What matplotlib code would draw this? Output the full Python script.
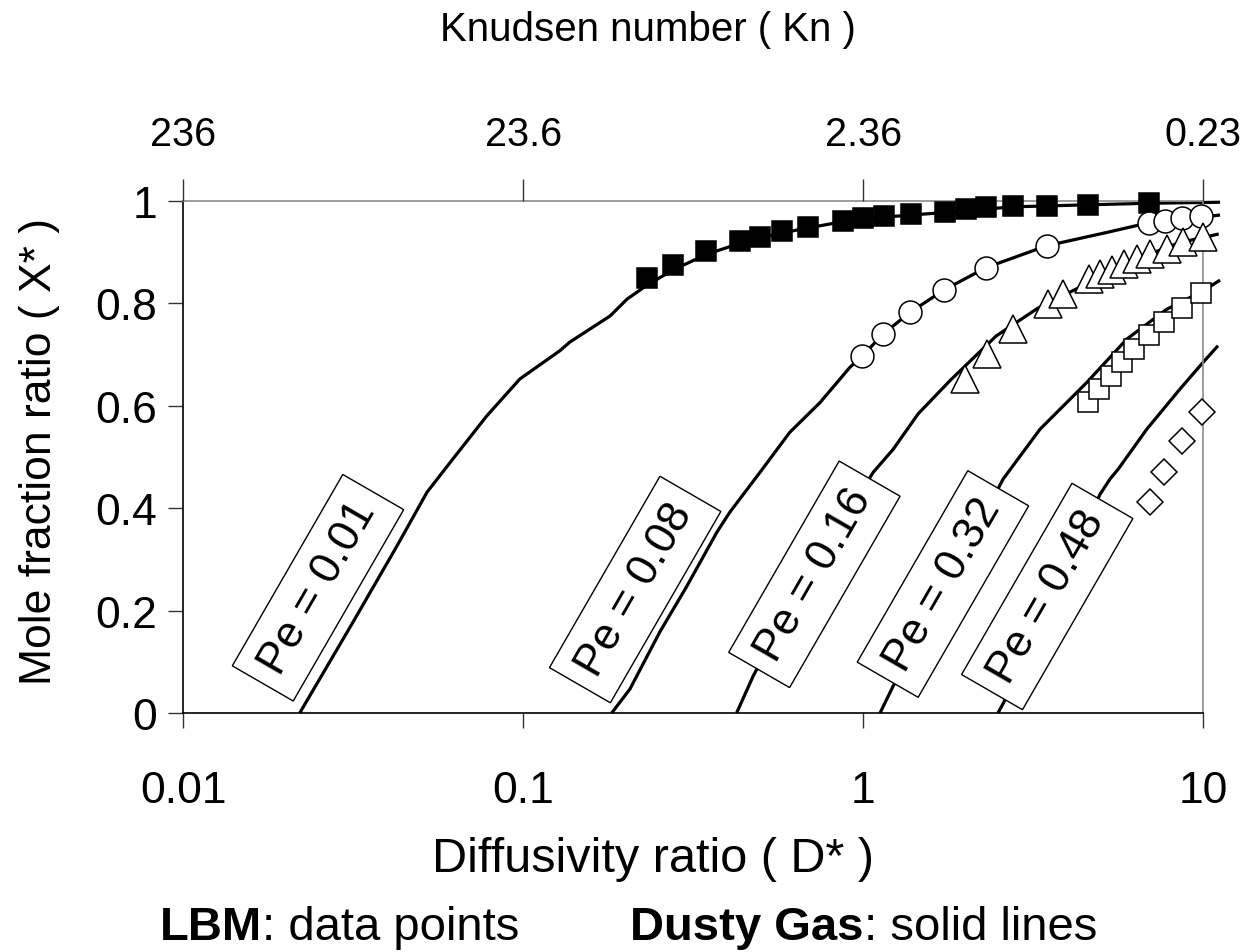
import numpy as np
import matplotlib
matplotlib.use("Agg")
import matplotlib.pyplot as plt

plt.rcParams['font.family'] = ['Liberation Sans', 'DejaVu Sans']

# ---------------- data ----------------
# LBM data points
lbm_pe001_D = [0.231, 0.276, 0.345, 0.434, 0.497, 0.575, 0.689, 0.869, 0.996, 1.151,
               1.378, 1.739, 2.004, 2.296, 2.749, 3.461, 4.589, 6.935]
lbm_pe001_X = [0.850, 0.875, 0.901, 0.921, 0.929, 0.940, 0.949, 0.961, 0.966, 0.970,
               0.975, 0.977, 0.984, 0.987, 0.990, 0.990, 0.992, 0.996]

lbm_pe008_D = [0.99, 1.145, 1.372, 1.73, 2.29, 3.46, 6.92, 7.71, 8.67, 9.85]
lbm_pe008_X = [0.696, 0.740, 0.782, 0.826, 0.869, 0.912, 0.957, 0.961, 0.966, 0.970]

lbm_pe016_D = [1.99, 2.31, 2.76, 3.49, 3.87, 4.62, 4.97, 5.38, 5.85, 6.37, 6.96, 7.80, 8.73, 9.96]
lbm_pe016_X = [0.652, 0.701, 0.750, 0.798, 0.818, 0.847, 0.857, 0.865, 0.876, 0.886,
               0.896, 0.906, 0.919, 0.930]

lbm_pe032_D = [4.59, 4.93, 5.34, 5.78, 6.27, 6.94, 7.66, 8.64, 9.85]
lbm_pe032_X = [0.607, 0.632, 0.658, 0.685, 0.711, 0.738, 0.763, 0.791, 0.820]

lbm_pe048_D = [6.97, 7.68, 8.67, 9.89]
lbm_pe048_X = [0.411, 0.470, 0.530, 0.587]

# Dusty Gas model (solid lines)
dg_pe001_D = [0.022, 0.0316, 0.0425, 0.0521, 0.0621, 0.0781, 0.0977, 0.128, 0.137, 0.180,
              0.202, 0.231, 0.276, 0.345, 0.434, 0.575, 0.689, 0.869, 1.151, 1.739,
              2.749, 4.589, 6.935, 11.2]
dg_pe001_X = [0.0, 0.178, 0.326, 0.431, 0.496, 0.580, 0.652, 0.707, 0.724, 0.775,
              0.808, 0.835, 0.865, 0.895, 0.917, 0.937, 0.947, 0.959, 0.968, 0.977,
              0.988, 0.992, 0.995, 0.997]

dg_pe008_D = [0.182, 0.206, 0.252, 0.303, 0.371, 0.405, 0.497, 0.608, 0.746, 0.914,
              0.99, 1.145, 1.372, 1.73, 2.29, 3.46, 5.2, 6.92, 11.2]
dg_pe008_X = [0.0, 0.047, 0.158, 0.248, 0.353, 0.392, 0.470, 0.548, 0.606, 0.675,
              0.696, 0.740, 0.782, 0.826, 0.869, 0.912, 0.938, 0.957, 0.972]

dg_pe016_D = [0.424, 0.475, 0.651, 1.07, 1.225, 1.45, 1.80, 2.46, 3.24, 4.24, 5.5, 6.9, 8.5, 11.1]
dg_pe016_X = [0.0, 0.073, 0.242, 0.470, 0.515, 0.584, 0.649, 0.736, 0.789, 0.828,
              0.865, 0.895, 0.918, 0.935]

dg_pe032_D = [1.12, 1.225, 1.80, 2.58, 3.31, 4.54, 5.96, 7.80, 10.0, 11.2]
dg_pe032_X = [0.0, 0.053, 0.262, 0.457, 0.554, 0.645, 0.730, 0.788, 0.824, 0.845]

dg_pe048_D = [2.49, 2.59, 3.54, 4.97, 5.32, 5.62, 6.82, 8.53, 10.0, 11.05]
dg_pe048_X = [0.0, 0.021, 0.223, 0.427, 0.457, 0.476, 0.554, 0.632, 0.685, 0.717]

pe_labels = ['Pe = 0.01', 'Pe = 0.08', 'Pe = 0.16', 'Pe = 0.32', 'Pe = 0.48']

x_ticks = [0.01, 0.1, 1, 10]
x_ticklabels = ['0.01', '0.1', '1', '10']
kn_ticklabels = ['236', '23.6', '2.36', '0.23']
y_ticks = [0, 0.2, 0.4, 0.6, 0.8, 1.0]
y_ticklabels = ['0', '0.2', '0.4', '0.6', '0.8', '1']

# ---------------- figure ----------------
W, H = 1243, 953
fig = plt.figure(figsize=(W / 100, H / 100), dpi=100)
ax = fig.add_axes([183.3 / W, 1 - 714 / H, (1203.3 - 183.3) / W, (714 - 201.7) / H])
ax.set_xscale('log')
ax.set_xlim(0.01, 10)
ax.set_ylim(0, 1)

line_kw = dict(color='black', lw=2.3, solid_capstyle='butt', clip_on=False, zorder=2)
for D, X in [(dg_pe001_D, dg_pe001_X), (dg_pe008_D, dg_pe008_X), (dg_pe016_D, dg_pe016_X),
             (dg_pe032_D, dg_pe032_X), (dg_pe048_D, dg_pe048_X)]:
    ax.plot(D, X, **line_kw)

mk = dict(linestyle='none', markeredgecolor='black', markeredgewidth=1.1, clip_on=False, zorder=4)
ax.plot(lbm_pe001_D, lbm_pe001_X, marker='s', ms=14.5, markerfacecolor='black', **mk)
ax.plot(lbm_pe008_D, lbm_pe008_X, marker='o', ms=16.5, markerfacecolor='white', **mk)
ax.plot(lbm_pe016_D, lbm_pe016_X, marker='^', ms=19.5, markerfacecolor='white', **mk)
ax.plot(lbm_pe032_D, lbm_pe032_X, marker='s', ms=14, markerfacecolor='white', **mk)
ax.plot(lbm_pe048_D, lbm_pe048_X, marker='D', ms=13, markerfacecolor='white', **mk)

# Pe labels (rotated boxes)
label_pos = [(0.0249, 0.2445), (0.2133, 0.241), (0.718, 0.2707), (1.715, 0.2518), (3.475, 0.2274)]
for txt, (lx, ly) in zip(pe_labels, label_pos):
    ax.text(lx, ly, txt, rotation=60, rotation_mode='anchor', ha='center', va='center',
            fontsize=32, zorder=5,
            bbox=dict(boxstyle='square,pad=0.33', facecolor='white', edgecolor='black', lw=1.0))

# axes styling
ax.set_xticks(x_ticks)
ax.set_xticklabels(x_ticklabels, fontsize=32)
ax.xaxis.set_minor_locator(matplotlib.ticker.NullLocator())
ax.set_yticks(y_ticks)
ax.set_yticklabels(y_ticklabels, fontsize=32)
ax.tick_params(axis='x', direction='out', length=11, width=1.0, pad=30, color='#333333')
ax.tick_params(axis='y', direction='out', length=11, width=1.0, pad=8, color='#333333')
for s in ['left', 'bottom']:
    ax.spines[s].set_color('black')
    ax.spines[s].set_linewidth(1.2)
for s in ['top', 'right']:
    ax.spines[s].set_color('#8c8c8c')
    ax.spines[s].set_linewidth(1.2)

# top axis (Knudsen number)
ax2 = ax.twiny()
ax2.set_xscale('log')
ax2.set_xlim(ax.get_xlim())
ax2.set_xticks(x_ticks)
ax2.set_xticklabels(kn_ticklabels, fontsize=28.5)
ax2.xaxis.set_minor_locator(matplotlib.ticker.NullLocator())
ax2.tick_params(axis='x', direction='out', length=15.5, width=1.0, pad=19, color='#333333')
for s in ax2.spines.values():
    s.set_visible(False)

# labels
fig.text(648 / W, 1 - 30 / H, 'Knudsen number ( Kn )', ha='center', va='center', fontsize=29)
fig.text(653 / W, 1 - 860 / H, 'Diffusivity ratio ( D* )', ha='center', va='center', fontsize=35)
fig.text(40 / W, 1 - 452 / H, 'Mole fraction ratio ( X* )', ha='center', va='center',
         rotation=90, fontsize=32)

t1 = fig.text(160 / W, 1 - 928 / H, 'LBM', ha='left', va='center', fontsize=34, fontweight='bold')
ax.annotate(': data points', xy=(1, 0), xycoords=t1, ha='left', va='bottom', fontsize=34,
            annotation_clip=False)
t2 = fig.text(630 / W, 1 - 928 / H, 'Dusty Gas', ha='left', va='center', fontsize=34, fontweight='bold')
ax.annotate(': solid lines', xy=(1, 0), xycoords=t2, ha='left', va='bottom', fontsize=34,
            annotation_clip=False)

fig.savefig('out.png', dpi=100)
